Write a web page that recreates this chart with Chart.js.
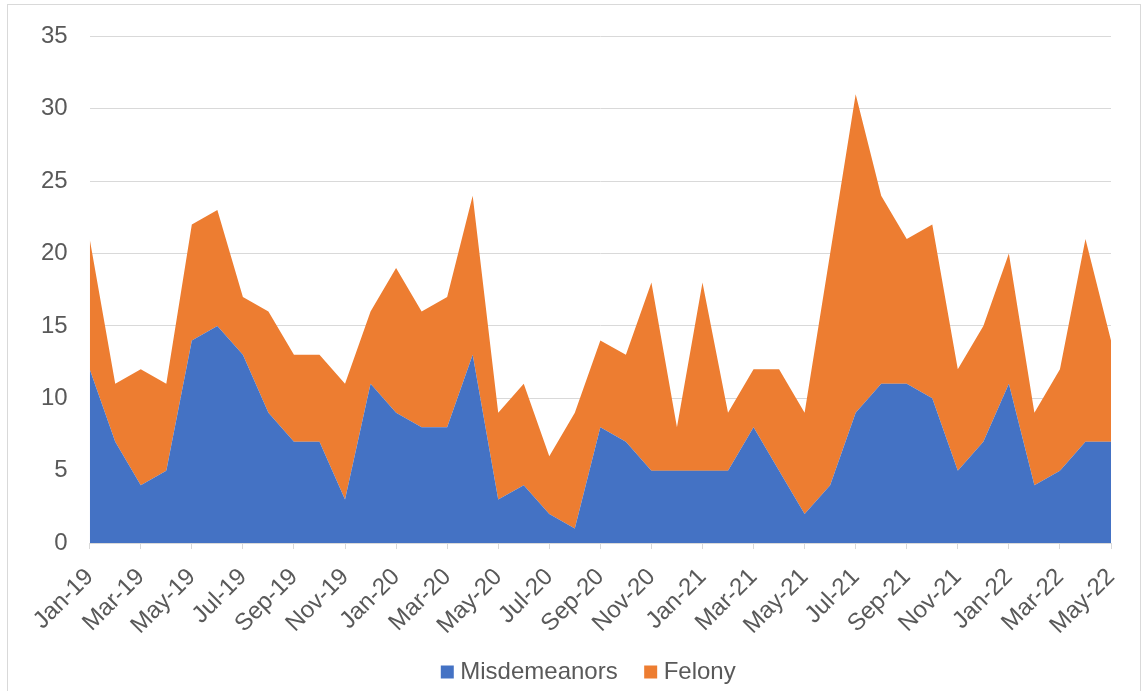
<!DOCTYPE html>
<html>
<head>
<meta charset="utf-8">
<script src="https://cdn.jsdelivr.net/npm/chart.js@4/dist/chart.umd.min.js"></script>
<style>
  html, body { margin: 0; padding: 0; background: #fff; }
  #wrap { position: relative; width: 1147px; height: 691px; }
  #frame { position: absolute; left: 7px; top: 4px; width: 1132px; height: 700px; border: 1px solid #d9d9d9; pointer-events: none; }
</style>
</head>
<body>
<div id="wrap">
  <canvas id="areachart" width="1147" height="691"></canvas>
  <div id="frame"></div>
</div>
<script>
var months = ['Jan-19', 'Feb-19', 'Mar-19', 'Apr-19', 'May-19', 'Jun-19', 'Jul-19', 'Aug-19', 'Sep-19', 'Oct-19', 'Nov-19', 'Dec-19',
              'Jan-20', 'Feb-20', 'Mar-20', 'Apr-20', 'May-20', 'Jun-20', 'Jul-20', 'Aug-20', 'Sep-20', 'Oct-20', 'Nov-20', 'Dec-20',
              'Jan-21', 'Feb-21', 'Mar-21', 'Apr-21', 'May-21', 'Jun-21', 'Jul-21', 'Aug-21', 'Sep-21', 'Oct-21', 'Nov-21', 'Dec-21',
              'Jan-22', 'Feb-22', 'Mar-22', 'Apr-22', 'May-22'];
var misdemeanors = [12, 7, 4, 5, 14, 15, 13, 9, 7, 7, 3, 11,
                    9, 8, 8, 13, 3, 4, 2, 1, 8, 7, 5, 5,
                    5, 5, 8, 5, 2, 4, 9, 11, 11, 10, 5, 7,
                    11, 4, 5, 7, 7];
var felony = [9, 4, 8, 6, 8, 8, 4, 7, 6, 6, 8, 5,
              10, 8, 9, 11, 6, 7, 4, 8, 6, 6, 13, 3,
              13, 4, 4, 7, 7, 16, 22, 13, 10, 12, 7, 8,
              9, 5, 7, 14, 7];

var textColor = '#595959';
var gridColor = '#d9d9d9';
var font = { family: '"Liberation Sans", Arial, sans-serif', size: 24 };

// move the legend row a little so it sits where the original has it
var legendShift = {
    id: 'legendShift',
    afterLayout: function (chart) {
        chart.legend.left += 26;
        chart.legend.right += 26;
        chart.legend.top -= 12;
        chart.legend.bottom -= 12;
    }
};

var chart1 = document.getElementById('areachart');
var myChart1 = new Chart(chart1, {
type: 'line',
data: {
    labels: months,
    datasets: [{
        label: 'Misdemeanors',
        data: misdemeanors,
        backgroundColor: '#4472C4',
        borderColor: '#4472C4',
        borderWidth: 0,
        pointRadius: 0,
        pointStyle: 'rect',
        fill: 'origin',
        tension: 0
    }, {
        label: 'Felony',
        data: felony,
        backgroundColor: '#ED7D31',
        borderColor: '#ED7D31',
        borderWidth: 0,
        pointRadius: 0,
        pointStyle: 'rect',
        fill: '-1',
        tension: 0
    }]
},
plugins: [legendShift],
options: {
    responsive: false,
    animation: false,
    layout: {
        padding: { left: 19, right: 36, top: 21, bottom: -15 }
    },
    scales: {
        x: {
            offset: false,
            grid: {
                drawOnChartArea: false,
                drawTicks: true,
                tickLength: 6,
                color: gridColor
            },
            border: { color: gridColor, width: 1 },
            ticks: {
                autoSkip: false,
                maxRotation: 45,
                minRotation: 45,
                padding: 14,
                color: textColor,
                font: font,
                callback: function (val, i) {
                    return i % 2 === 0 ? months[i] : null;
                }
            },
            afterFit: function (scale) {
                scale.height -= 14;
            }
        },
        y: {
            stacked: true,
            min: 0,
            max: 35,
            grid: {
                color: gridColor,
                drawTicks: false
            },
            border: { display: false },
            ticks: {
                stepSize: 5,
                padding: 22,
                color: textColor,
                font: font
            }
        }
    },
    plugins: {
        legend: {
            display: true,
            position: 'bottom',
            labels: {
                usePointStyle: true,
                boxWidth: 2,
                boxHeight: 13,
                padding: 32,
                color: textColor,
                font: font
            }
        },
        tooltip: { enabled: false }
    }
}
});
</script>
</body>
</html>
